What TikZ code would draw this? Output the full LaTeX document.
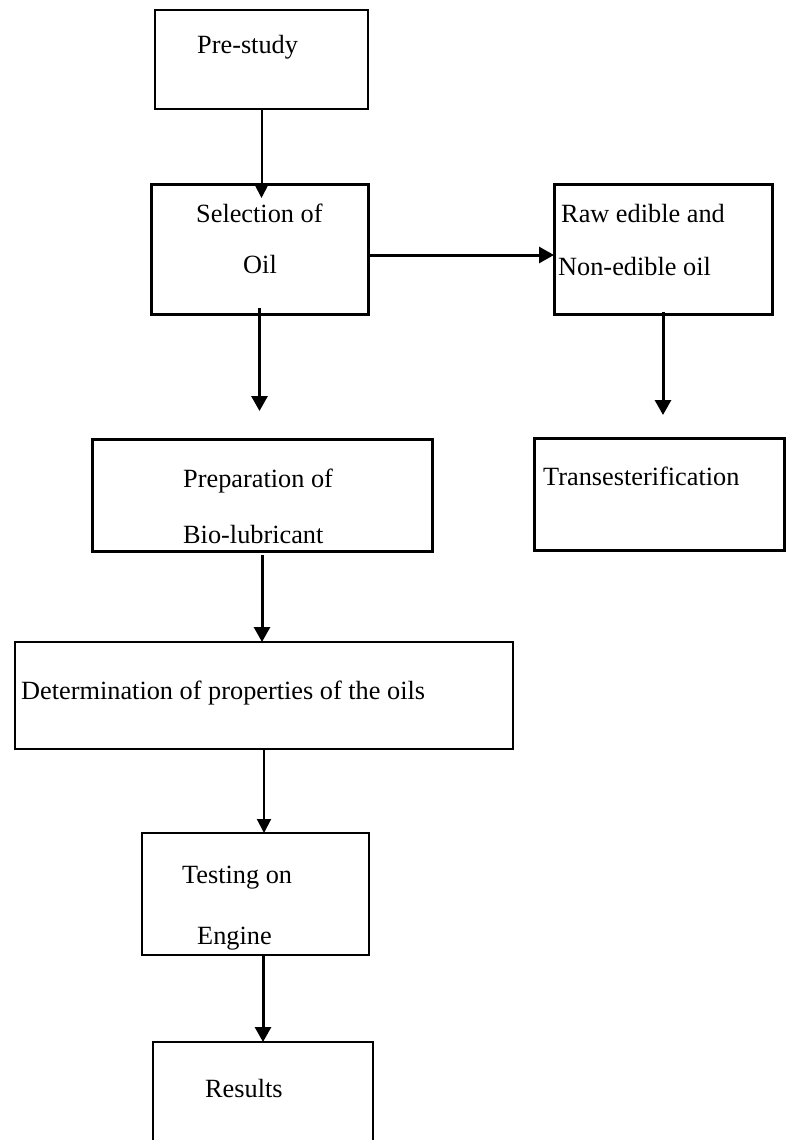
\documentclass[tikz,border=0pt]{standalone}
\usepackage{fontspec}
\setmainfont{Liberation Serif}
\usetikzlibrary{arrows.meta}
\begin{document}
\begin{tikzpicture}[x=1pt,y=-1pt,
  thinbox/.style={draw, line width=2pt, inner sep=0pt, outer sep=0pt, anchor=north west},
  thickbox/.style={draw, line width=3pt, inner sep=0pt, outer sep=0pt, anchor=north west},
  lbl/.style={anchor=base west, inner sep=0pt, font=\fontsize{26.3}{30}\selectfont},
  thinarrow/.style={line width=2pt, -{Triangle[length=14pt,width=14pt]}},
  thickarrow/.style={line width=3pt, -{Triangle[length=15pt,width=16pt]}}]
\useasboundingbox (0,0) rectangle (786,1140);
\clip (0,0) rectangle (786,1140);
\fill[white] (0,0) rectangle (786,1140);

% boxes
\node[thinbox, minimum width=213pt, minimum height=99pt] (pre) at (155,10) {};
\node[thickbox, minimum width=217pt, minimum height=130pt] (sel) at (151,184) {};
\node[thickbox, minimum width=218pt, minimum height=130pt] (raw) at (554,184) {};
\node[thickbox, minimum width=340pt, minimum height=112pt] (prep) at (92,439) {};
\node[thickbox, minimum width=250pt, minimum height=112pt] (trans) at (534,438) {};
\node[thinbox, minimum width=498pt, minimum height=107pt] (det) at (15,642) {};
\node[thinbox, minimum width=227pt, minimum height=122pt] (test) at (142,833) {};
\node[thinbox, minimum width=220pt, minimum height=130pt] (res) at (153,1042) {};

% labels
\node[lbl] (tpre) at (197,53) {Pre-study};
\node[lbl] (tsel1) at (196,222) {Selection of};
\node[lbl] (tsel2) at (243,273) {Oil};
\node[lbl] (traw1) at (561,222) {Raw edible and};
\node[lbl] (traw2) at (558,275) {Non-edible oil};
\node[lbl] (tprep1) at (183,487) {Preparation of};
\node[lbl] (tprep2) at (183,543) {Bio-lubricant};
\node[lbl] (ttrans) at (543,485) {Transesterification};
\node[lbl] (tdet) at (21,699) {Determination of properties of the oils};
\node[lbl] (ttest1) at (182,883) {Testing on};
\node[lbl] (ttest2) at (197,944) {Engine};
\node[lbl] (tres) at (205,1097) {Results};

% arrow end coordinates
\coordinate (e1) at (258,198);
\coordinate (e2) at (261,411);
\coordinate (e3) at (665,415);

% connectors
\draw[thinarrow] (pre.south) -- (pre.south |- e1);
\draw[thickarrow] ([yshift=-6pt]sel.east) -- ([yshift=-6pt]raw.west);
\draw[thickarrow] ([yshift=6pt]sel.south) -- (sel.south |- e2);
\draw[thickarrow] ([yshift=2pt]raw.south) -- (raw.south |- e3);
\draw[thickarrow] ([yshift=-4pt]prep.south) -- (prep.south |- det.north);
\draw[thinarrow] (det.south) -- (det.south |- test.north);
\draw[thickarrow] (res.north |- test.south) -- (res.north);
\end{tikzpicture}
\end{document}
